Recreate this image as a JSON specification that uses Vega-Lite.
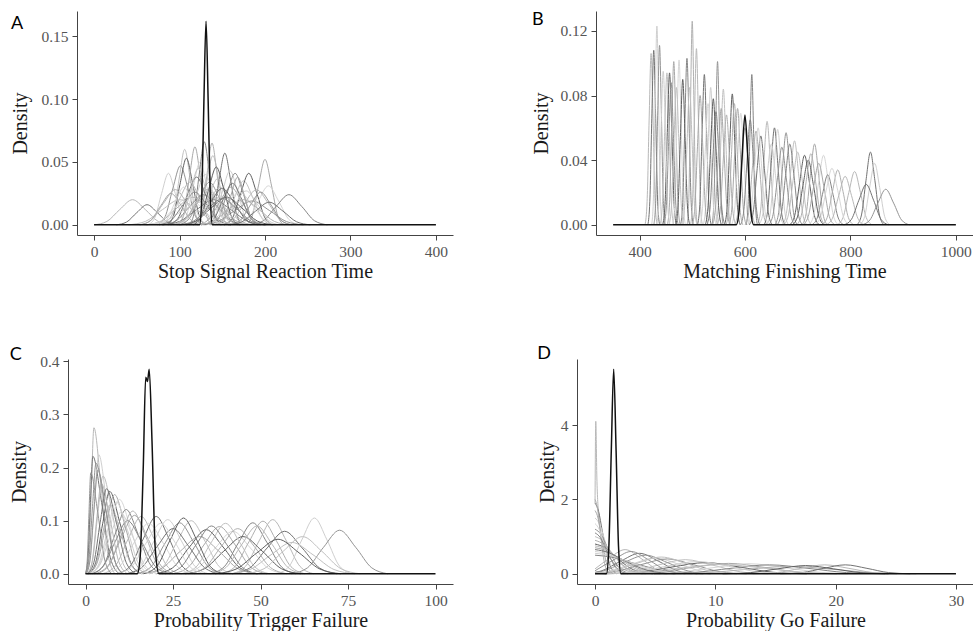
{
"$schema":"https://vega.github.io/schema/vega-lite/v6.json",
"padding":{"left":9,"top":11,"right":0,"bottom":0},
"background":"white",
"config":{"view":{"stroke":null},
"axis":{"grid":false,"labelFont":"Liberation Serif","titleFont":"Liberation Serif","labelFontSize":15.5,"titleFontSize":20,"titleFontWeight":"normal","labelColor":"#555555","titleColor":"#1a1a1a","domainColor":"#444444","tickColor":"#444444","tickSize":5,"labelPadding":4},
"axisX":{"titlePadding":2},
"axisY":{"titlePadding":6},
"title":{"anchor":"start","frame":"bounds","baseline":"alphabetic","font":"Lato","fontSize":18,"fontWeight":"normal","color":"#000000"}},
"datasets":{
"A":[
{"c":1,"x":0,"y":0},{"c":1,"x":15,"y":0.0027},{"c":1,"x":30,"y":0.0121},{"c":1,"x":45,"y":0.02},{"c":1,"x":60,"y":0.0121},{"c":1,"x":75,"y":0.0027},{"c":1,"x":90,"y":0},
{"c":2,"x":26,"y":0},{"c":2,"x":38,"y":0.0022},{"c":2,"x":50,"y":0.0097},{"c":2,"x":62,"y":0.016},{"c":2,"x":74,"y":0.0097},{"c":2,"x":86,"y":0.0022},{"c":2,"x":98,"y":0},
{"c":3,"x":63,"y":0},{"c":3,"x":71,"y":0.0055},{"c":3,"x":79,"y":0.0249},{"c":3,"x":87,"y":0.041},{"c":3,"x":95,"y":0.0249},{"c":3,"x":103,"y":0.0055},{"c":3,"x":111,"y":0},
{"c":4,"x":74,"y":0},{"c":4,"x":83,"y":0.0063},{"c":4,"x":92,"y":0.0285},{"c":4,"x":101,"y":0.047},{"c":4,"x":110,"y":0.0285},{"c":4,"x":119,"y":0.0063},{"c":4,"x":128,"y":0},
{"c":5,"x":86.5,"y":0},{"c":5,"x":93,"y":0.0081},{"c":5,"x":99.5,"y":0.0364},{"c":5,"x":106,"y":0.06},{"c":5,"x":112.5,"y":0.0364},{"c":5,"x":119,"y":0.0081},{"c":5,"x":125.5,"y":0},
{"c":6,"x":85.5,"y":0},{"c":6,"x":93,"y":0.0072},{"c":6,"x":100.5,"y":0.0322},{"c":6,"x":108,"y":0.053},{"c":6,"x":115.5,"y":0.0322},{"c":6,"x":123,"y":0.0072},{"c":6,"x":130.5,"y":0},
{"c":7,"x":98.5,"y":0},{"c":7,"x":105,"y":0.0084},{"c":7,"x":111.5,"y":0.0376},{"c":7,"x":118,"y":0.062},{"c":7,"x":124.5,"y":0.0376},{"c":7,"x":131,"y":0.0084},{"c":7,"x":137.5,"y":0},
{"c":8,"x":100,"y":0},{"c":8,"x":108,"y":0.0068},{"c":8,"x":116,"y":0.0304},{"c":8,"x":124,"y":0.05},{"c":8,"x":132,"y":0.0304},{"c":8,"x":140,"y":0.0068},{"c":8,"x":148,"y":0},
{"c":9,"x":111,"y":0},{"c":9,"x":117,"y":0.0089},{"c":9,"x":123,"y":0.0401},{"c":9,"x":129,"y":0.066},{"c":9,"x":135,"y":0.0401},{"c":9,"x":141,"y":0.0089},{"c":9,"x":147,"y":0},
{"c":10,"x":120,"y":0},{"c":10,"x":126,"y":0.0088},{"c":10,"x":132,"y":0.0395},{"c":10,"x":138,"y":0.065},{"c":10,"x":144,"y":0.0395},{"c":10,"x":150,"y":0.0088},{"c":10,"x":156,"y":0},
{"c":11,"x":116.5,"y":0},{"c":11,"x":124,"y":0.0074},{"c":11,"x":131.5,"y":0.0334},{"c":11,"x":139,"y":0.055},{"c":11,"x":146.5,"y":0.0334},{"c":11,"x":154,"y":0.0074},{"c":11,"x":161.5,"y":0},
{"c":12,"x":132,"y":0},{"c":12,"x":139,"y":0.0077},{"c":12,"x":146,"y":0.0346},{"c":12,"x":153,"y":0.057},{"c":12,"x":160,"y":0.0346},{"c":12,"x":167,"y":0.0077},{"c":12,"x":174,"y":0},
{"c":13,"x":132,"y":0},{"c":13,"x":141,"y":0.0058},{"c":13,"x":150,"y":0.0261},{"c":13,"x":159,"y":0.043},{"c":13,"x":168,"y":0.0261},{"c":13,"x":177,"y":0.0058},{"c":13,"x":186,"y":0},
{"c":14,"x":136.5,"y":0},{"c":14,"x":146,"y":0.0055},{"c":14,"x":155.5,"y":0.0249},{"c":14,"x":165,"y":0.041},{"c":14,"x":174.5,"y":0.0249},{"c":14,"x":184,"y":0.0055},{"c":14,"x":193.5,"y":0},
{"c":15,"x":142,"y":0},{"c":15,"x":153,"y":0.0047},{"c":15,"x":164,"y":0.0212},{"c":15,"x":175,"y":0.035},{"c":15,"x":186,"y":0.0212},{"c":15,"x":197,"y":0.0047},{"c":15,"x":208,"y":0},
{"c":16,"x":152.5,"y":0},{"c":16,"x":162,"y":0.0055},{"c":16,"x":171.5,"y":0.0249},{"c":16,"x":181,"y":0.041},{"c":16,"x":190.5,"y":0.0249},{"c":16,"x":200,"y":0.0055},{"c":16,"x":209.5,"y":0},
{"c":17,"x":177.5,"y":0},{"c":17,"x":185,"y":0.007},{"c":17,"x":192.5,"y":0.0316},{"c":17,"x":200,"y":0.052},{"c":17,"x":207.5,"y":0.0316},{"c":17,"x":215,"y":0.007},{"c":17,"x":222.5,"y":0},
{"c":18,"x":168,"y":0},{"c":18,"x":180,"y":0.0042},{"c":18,"x":192,"y":0.0188},{"c":18,"x":204,"y":0.031},{"c":18,"x":216,"y":0.0188},{"c":18,"x":228,"y":0.0042},{"c":18,"x":240,"y":0},
{"c":19,"x":183,"y":0},{"c":19,"x":198,"y":0.0032},{"c":19,"x":213,"y":0.0146},{"c":19,"x":228,"y":0.024},{"c":19,"x":243,"y":0.0146},{"c":19,"x":258,"y":0.0032},{"c":19,"x":273,"y":0},
{"c":20,"x":53,"y":0},{"c":20,"x":67,"y":0.0038},{"c":20,"x":81,"y":0.017},{"c":20,"x":95,"y":0.028},{"c":20,"x":109,"y":0.017},{"c":20,"x":123,"y":0.0038},{"c":20,"x":137,"y":0},
{"c":21,"x":76,"y":0},{"c":21,"x":88,"y":0.0046},{"c":21,"x":100,"y":0.0206},{"c":21,"x":112,"y":0.034},{"c":21,"x":124,"y":0.0206},{"c":21,"x":136,"y":0.0046},{"c":21,"x":148,"y":0},
{"c":22,"x":87,"y":0},{"c":22,"x":98,"y":0.0051},{"c":22,"x":109,"y":0.0231},{"c":22,"x":120,"y":0.038},{"c":22,"x":131,"y":0.0231},{"c":22,"x":142,"y":0.0051},{"c":22,"x":153,"y":0},
{"c":23,"x":100,"y":0},{"c":23,"x":110,"y":0.0054},{"c":23,"x":120,"y":0.0243},{"c":23,"x":130,"y":0.04},{"c":23,"x":140,"y":0.0243},{"c":23,"x":150,"y":0.0054},{"c":23,"x":160,"y":0},
{"c":24,"x":99,"y":0},{"c":24,"x":111,"y":0.0046},{"c":24,"x":123,"y":0.0206},{"c":24,"x":135,"y":0.034},{"c":24,"x":147,"y":0.0206},{"c":24,"x":159,"y":0.0046},{"c":24,"x":171,"y":0},
{"c":25,"x":112,"y":0},{"c":25,"x":123,"y":0.005},{"c":25,"x":134,"y":0.0225},{"c":25,"x":145,"y":0.037},{"c":25,"x":156,"y":0.0225},{"c":25,"x":167,"y":0.005},{"c":25,"x":178,"y":0},
{"c":26,"x":108,"y":0},{"c":26,"x":122,"y":0.0039},{"c":26,"x":136,"y":0.0176},{"c":26,"x":150,"y":0.029},{"c":26,"x":164,"y":0.0176},{"c":26,"x":178,"y":0.0039},{"c":26,"x":192,"y":0},
{"c":27,"x":121,"y":0},{"c":27,"x":134,"y":0.0041},{"c":27,"x":147,"y":0.0182},{"c":27,"x":160,"y":0.03},{"c":27,"x":173,"y":0.0182},{"c":27,"x":186,"y":0.0041},{"c":27,"x":199,"y":0},
{"c":28,"x":125,"y":0},{"c":28,"x":140,"y":0.0035},{"c":28,"x":155,"y":0.0158},{"c":28,"x":170,"y":0.026},{"c":28,"x":185,"y":0.0158},{"c":28,"x":200,"y":0.0035},{"c":28,"x":215,"y":0},
{"c":29,"x":80,"y":0},{"c":29,"x":96,"y":0.0032},{"c":29,"x":112,"y":0.0146},{"c":29,"x":128,"y":0.024},{"c":29,"x":144,"y":0.0146},{"c":29,"x":160,"y":0.0032},{"c":29,"x":176,"y":0},
{"c":30,"x":61,"y":0},{"c":30,"x":79,"y":0.003},{"c":30,"x":97,"y":0.0134},{"c":30,"x":115,"y":0.022},{"c":30,"x":133,"y":0.0134},{"c":30,"x":151,"y":0.003},{"c":30,"x":169,"y":0},
{"c":31,"x":148,"y":0},{"c":31,"x":162,"y":0.0038},{"c":31,"x":176,"y":0.017},{"c":31,"x":190,"y":0.028},{"c":31,"x":204,"y":0.017},{"c":31,"x":218,"y":0.0038},{"c":31,"x":232,"y":0},
{"c":32,"x":80,"y":0},{"c":32,"x":100,"y":0.0027},{"c":32,"x":120,"y":0.0121},{"c":32,"x":140,"y":0.02},{"c":32,"x":160,"y":0.0121},{"c":32,"x":180,"y":0.0027},{"c":32,"x":200,"y":0},
{"c":33,"x":59,"y":0},{"c":33,"x":81,"y":0.0024},{"c":33,"x":103,"y":0.0109},{"c":33,"x":125,"y":0.018},{"c":33,"x":147,"y":0.0109},{"c":33,"x":169,"y":0.0024},{"c":33,"x":191,"y":0},
{"c":34,"x":125,"y":0},{"c":34,"x":145,"y":0.0026},{"c":34,"x":165,"y":0.0115},{"c":34,"x":185,"y":0.019},{"c":34,"x":205,"y":0.0115},{"c":34,"x":225,"y":0.0026},{"c":34,"x":245,"y":0},
{"c":35,"x":40,"y":0},{"c":35,"x":60,"y":0.0027},{"c":35,"x":80,"y":0.0121},{"c":35,"x":100,"y":0.02},{"c":35,"x":120,"y":0.0121},{"c":35,"x":140,"y":0.0027},{"c":35,"x":160,"y":0},
{"c":36,"x":101,"y":0},{"c":36,"x":119,"y":0.003},{"c":36,"x":137,"y":0.0134},{"c":36,"x":155,"y":0.022},{"c":36,"x":173,"y":0.0134},{"c":36,"x":191,"y":0.003},{"c":36,"x":209,"y":0},
{"c":37,"x":54,"y":0},{"c":37,"x":66,"y":0.0034},{"c":37,"x":78,"y":0.0152},{"c":37,"x":90,"y":0.025},{"c":37,"x":102,"y":0.0152},{"c":37,"x":114,"y":0.0034},{"c":37,"x":126,"y":0},
{"c":38,"x":75,"y":0},{"c":38,"x":85,"y":0.0041},{"c":38,"x":95,"y":0.0182},{"c":38,"x":105,"y":0.03},{"c":38,"x":115,"y":0.0182},{"c":38,"x":125,"y":0.0041},{"c":38,"x":135,"y":0},
{"c":39,"x":76,"y":0},{"c":39,"x":90,"y":0.0035},{"c":39,"x":104,"y":0.0158},{"c":39,"x":118,"y":0.026},{"c":39,"x":132,"y":0.0158},{"c":39,"x":146,"y":0.0035},{"c":39,"x":160,"y":0},
{"c":40,"x":93,"y":0},{"c":40,"x":106,"y":0.0038},{"c":40,"x":119,"y":0.017},{"c":40,"x":132,"y":0.028},{"c":40,"x":145,"y":0.017},{"c":40,"x":158,"y":0.0038},{"c":40,"x":171,"y":0},
{"c":41,"x":111,"y":0},{"c":41,"x":123,"y":0.0041},{"c":41,"x":135,"y":0.0182},{"c":41,"x":147,"y":0.03},{"c":41,"x":159,"y":0.0182},{"c":41,"x":171,"y":0.0041},{"c":41,"x":183,"y":0},
{"c":42,"x":129,"y":0},{"c":42,"x":140,"y":0.0045},{"c":42,"x":151,"y":0.02},{"c":42,"x":162,"y":0.033},{"c":42,"x":173,"y":0.02},{"c":42,"x":184,"y":0.0045},{"c":42,"x":195,"y":0},
{"c":43,"x":139,"y":0},{"c":43,"x":152,"y":0.0036},{"c":43,"x":165,"y":0.0164},{"c":43,"x":178,"y":0.027},{"c":43,"x":191,"y":0.0164},{"c":43,"x":204,"y":0.0036},{"c":43,"x":217,"y":0},
{"c":44,"x":159,"y":0},{"c":44,"x":171,"y":0.0035},{"c":44,"x":183,"y":0.0158},{"c":44,"x":195,"y":0.026},{"c":44,"x":207,"y":0.0158},{"c":44,"x":219,"y":0.0035},{"c":44,"x":231,"y":0},
{"c":45,"x":95,"y":0},{"c":45,"x":104,"y":0.0061},{"c":45,"x":113,"y":0.0273},{"c":45,"x":122,"y":0.045},{"c":45,"x":131,"y":0.0273},{"c":45,"x":140,"y":0.0061},{"c":45,"x":149,"y":0},
{"c":46,"x":116,"y":0},{"c":46,"x":125,"y":0.0062},{"c":46,"x":134,"y":0.0279},{"c":46,"x":143,"y":0.046},{"c":46,"x":152,"y":0.0279},{"c":46,"x":161,"y":0.0062},{"c":46,"x":170,"y":0},
{"c":47,"x":144,"y":0},{"c":47,"x":152,"y":0.0051},{"c":47,"x":160,"y":0.0231},{"c":47,"x":168,"y":0.038},{"c":47,"x":176,"y":0.0231},{"c":47,"x":184,"y":0.0051},{"c":47,"x":192,"y":0},
{"c":48,"x":62,"y":0},{"c":48,"x":78,"y":0.003},{"c":48,"x":94,"y":0.0134},{"c":48,"x":110,"y":0.022},{"c":48,"x":126,"y":0.0134},{"c":48,"x":142,"y":0.003},{"c":48,"x":158,"y":0},
{"c":49,"x":99,"y":0},{"c":49,"x":116,"y":0.0028},{"c":49,"x":133,"y":0.0127},{"c":49,"x":150,"y":0.021},{"c":49,"x":167,"y":0.0127},{"c":49,"x":184,"y":0.0028},{"c":49,"x":201,"y":0},
{"c":50,"x":121,"y":0},{"c":50,"x":139,"y":0.0027},{"c":50,"x":157,"y":0.0121},{"c":50,"x":175,"y":0.02},{"c":50,"x":193,"y":0.0121},{"c":50,"x":211,"y":0.0027},{"c":50,"x":229,"y":0},
{"c":51,"x":90,"y":0},{"c":51,"x":105,"y":0.0036},{"c":51,"x":120,"y":0.0164},{"c":51,"x":135,"y":0.027},{"c":51,"x":150,"y":0.0164},{"c":51,"x":165,"y":0.0036},{"c":51,"x":180,"y":0},
{"c":52,"x":157,"y":0},{"c":52,"x":173,"y":0.0024},{"c":52,"x":189,"y":0.0109},{"c":52,"x":205,"y":0.018},{"c":52,"x":221,"y":0.0109},{"c":52,"x":237,"y":0.0024},{"c":52,"x":253,"y":0}
],
"A0":[{"x":0,"y":0},{"x":123.5,"y":0},{"x":126,"y":0.022},{"x":128.5,"y":0.098},{"x":131,"y":0.162},{"x":133.5,"y":0.098},{"x":136,"y":0.022},{"x":138.5,"y":0},{"x":400,"y":0}],
"B":[
{"c":1,"x":410.6,"y":0},{"c":1,"x":414.4,"y":0.0143},{"c":1,"x":418.2,"y":0.0643},{"c":1,"x":422,"y":0.106},{"c":1,"x":425.8,"y":0.0643},{"c":1,"x":429.6,"y":0.0143},{"c":1,"x":433.4,"y":0},
{"c":2,"x":415.9,"y":0},{"c":2,"x":419.6,"y":0.0146},{"c":2,"x":423.3,"y":0.0656},{"c":2,"x":427,"y":0.108},{"c":2,"x":430.7,"y":0.0656},{"c":2,"x":434.4,"y":0.0146},{"c":2,"x":438.1,"y":0},
{"c":3,"x":423.1,"y":0},{"c":3,"x":426.4,"y":0.0166},{"c":3,"x":429.7,"y":0.0747},{"c":3,"x":433,"y":0.123},{"c":3,"x":436.3,"y":0.0747},{"c":3,"x":439.6,"y":0.0166},{"c":3,"x":442.9,"y":0},
{"c":4,"x":427.2,"y":0},{"c":4,"x":430.8,"y":0.015},{"c":4,"x":434.4,"y":0.0674},{"c":4,"x":438,"y":0.111},{"c":4,"x":441.6,"y":0.0674},{"c":4,"x":445.2,"y":0.015},{"c":4,"x":448.8,"y":0},
{"c":5,"x":439.1,"y":0},{"c":5,"x":443.4,"y":0.0127},{"c":5,"x":447.7,"y":0.0571},{"c":5,"x":452,"y":0.094},{"c":5,"x":456.3,"y":0.0571},{"c":5,"x":460.6,"y":0.0127},{"c":5,"x":464.9,"y":0},
{"c":6,"x":444.1,"y":0},{"c":6,"x":448.4,"y":0.0127},{"c":6,"x":452.7,"y":0.0571},{"c":6,"x":457,"y":0.094},{"c":6,"x":461.3,"y":0.0571},{"c":6,"x":465.6,"y":0.0127},{"c":6,"x":469.9,"y":0},
{"c":7,"x":453,"y":0},{"c":7,"x":457,"y":0.0136},{"c":7,"x":461,"y":0.0613},{"c":7,"x":465,"y":0.101},{"c":7,"x":469,"y":0.0613},{"c":7,"x":473,"y":0.0136},{"c":7,"x":477,"y":0},
{"c":8,"x":463,"y":0},{"c":8,"x":467,"y":0.0138},{"c":8,"x":471,"y":0.0619},{"c":8,"x":475,"y":0.102},{"c":8,"x":479,"y":0.0619},{"c":8,"x":483,"y":0.0138},{"c":8,"x":487,"y":0},
{"c":9,"x":478,"y":0},{"c":9,"x":482,"y":0.0139},{"c":9,"x":486,"y":0.0625},{"c":9,"x":490,"y":0.103},{"c":9,"x":494,"y":0.0625},{"c":9,"x":498,"y":0.0139},{"c":9,"x":502,"y":0},
{"c":10,"x":490.4,"y":0},{"c":10,"x":493.6,"y":0.017},{"c":10,"x":496.8,"y":0.0765},{"c":10,"x":500,"y":0.126},{"c":10,"x":503.2,"y":0.0765},{"c":10,"x":506.4,"y":0.017},{"c":10,"x":509.6,"y":0},
{"c":11,"x":496.9,"y":0},{"c":11,"x":500.6,"y":0.0147},{"c":11,"x":504.3,"y":0.0662},{"c":11,"x":508,"y":0.109},{"c":11,"x":511.7,"y":0.0662},{"c":11,"x":515.4,"y":0.0147},{"c":11,"x":519.1,"y":0},
{"c":12,"x":510.1,"y":0},{"c":12,"x":514.4,"y":0.0126},{"c":12,"x":518.7,"y":0.0565},{"c":12,"x":523,"y":0.093},{"c":12,"x":527.3,"y":0.0565},{"c":12,"x":531.6,"y":0.0126},{"c":12,"x":535.9,"y":0},
{"c":13,"x":520.9,"y":0},{"c":13,"x":525.6,"y":0.0115},{"c":13,"x":530.3,"y":0.0516},{"c":13,"x":535,"y":0.085},{"c":13,"x":539.7,"y":0.0516},{"c":13,"x":544.4,"y":0.0115},{"c":13,"x":549.1,"y":0},
{"c":14,"x":537.5,"y":0},{"c":14,"x":541,"y":0.0136},{"c":14,"x":544.5,"y":0.0613},{"c":14,"x":548,"y":0.101},{"c":14,"x":551.5,"y":0.0613},{"c":14,"x":555,"y":0.0136},{"c":14,"x":558.5,"y":0},
{"c":15,"x":544.6,"y":0},{"c":15,"x":549.4,"y":0.0113},{"c":15,"x":554.2,"y":0.051},{"c":15,"x":559,"y":0.084},{"c":15,"x":563.8,"y":0.051},{"c":15,"x":568.6,"y":0.0113},{"c":15,"x":573.4,"y":0},
{"c":16,"x":561.3,"y":0},{"c":16,"x":566.2,"y":0.0109},{"c":16,"x":571.1,"y":0.0492},{"c":16,"x":576,"y":0.081},{"c":16,"x":580.9,"y":0.0492},{"c":16,"x":585.8,"y":0.0109},{"c":16,"x":590.7,"y":0},
{"c":17,"x":569.5,"y":0},{"c":17,"x":575,"y":0.0097},{"c":17,"x":580.5,"y":0.0437},{"c":17,"x":586,"y":0.072},{"c":17,"x":591.5,"y":0.0437},{"c":17,"x":597,"y":0.0097},{"c":17,"x":602.5,"y":0},
{"c":18,"x":574.6,"y":0},{"c":18,"x":580.4,"y":0.0093},{"c":18,"x":586.2,"y":0.0419},{"c":18,"x":592,"y":0.069},{"c":18,"x":597.8,"y":0.0419},{"c":18,"x":603.6,"y":0.0093},{"c":18,"x":609.4,"y":0},
{"c":19,"x":602.5,"y":0},{"c":19,"x":606,"y":0.0126},{"c":19,"x":609.5,"y":0.0565},{"c":19,"x":613,"y":0.093},{"c":19,"x":616.5,"y":0.0565},{"c":19,"x":620,"y":0.0126},{"c":19,"x":623.5,"y":0},
{"c":20,"x":600.3,"y":0},{"c":20,"x":607.2,"y":0.0078},{"c":20,"x":614.1,"y":0.0352},{"c":20,"x":621,"y":0.058},{"c":20,"x":627.9,"y":0.0352},{"c":20,"x":634.8,"y":0.0078},{"c":20,"x":641.7,"y":0},
{"c":21,"x":623.4,"y":0},{"c":21,"x":629.6,"y":0.0086},{"c":21,"x":635.8,"y":0.0388},{"c":21,"x":642,"y":0.064},{"c":21,"x":648.2,"y":0.0388},{"c":21,"x":654.4,"y":0.0086},{"c":21,"x":660.6,"y":0},
{"c":22,"x":636.2,"y":0},{"c":22,"x":642.8,"y":0.0081},{"c":22,"x":649.4,"y":0.0364},{"c":22,"x":656,"y":0.06},{"c":22,"x":662.6,"y":0.0364},{"c":22,"x":669.2,"y":0.0081},{"c":22,"x":675.8,"y":0},
{"c":23,"x":641.6,"y":0},{"c":23,"x":648.4,"y":0.008},{"c":23,"x":655.2,"y":0.0358},{"c":23,"x":662,"y":0.059},{"c":23,"x":668.8,"y":0.0358},{"c":23,"x":675.6,"y":0.008},{"c":23,"x":682.4,"y":0},
{"c":24,"x":657,"y":0},{"c":24,"x":664,"y":0.0077},{"c":24,"x":671,"y":0.0346},{"c":24,"x":678,"y":0.057},{"c":24,"x":685,"y":0.0346},{"c":24,"x":692,"y":0.0077},{"c":24,"x":699,"y":0},
{"c":25,"x":670.9,"y":0},{"c":25,"x":678.6,"y":0.007},{"c":25,"x":686.3,"y":0.0316},{"c":25,"x":694,"y":0.052},{"c":25,"x":701.7,"y":0.0316},{"c":25,"x":709.4,"y":0.007},{"c":25,"x":717.1,"y":0},
{"c":26,"x":685.1,"y":0},{"c":26,"x":694.4,"y":0.0058},{"c":26,"x":703.7,"y":0.0261},{"c":26,"x":713,"y":0.043},{"c":26,"x":722.3,"y":0.0261},{"c":26,"x":731.6,"y":0.0058},{"c":26,"x":740.9,"y":0},
{"c":27,"x":708,"y":0},{"c":27,"x":716,"y":0.0068},{"c":27,"x":724,"y":0.0304},{"c":27,"x":732,"y":0.05},{"c":27,"x":740,"y":0.0304},{"c":27,"x":748,"y":0.0068},{"c":27,"x":756,"y":0},
{"c":28,"x":721.1,"y":0},{"c":28,"x":730.4,"y":0.0058},{"c":28,"x":739.7,"y":0.0261},{"c":28,"x":749,"y":0.043},{"c":28,"x":758.3,"y":0.0261},{"c":28,"x":767.6,"y":0.0058},{"c":28,"x":776.9,"y":0},
{"c":29,"x":727,"y":0},{"c":29,"x":737,"y":0.0042},{"c":29,"x":747,"y":0.0188},{"c":29,"x":757,"y":0.031},{"c":29,"x":767,"y":0.0188},{"c":29,"x":777,"y":0.0042},{"c":29,"x":787,"y":0},
{"c":30,"x":746,"y":0},{"c":30,"x":756,"y":0.0046},{"c":30,"x":766,"y":0.0206},{"c":30,"x":776,"y":0.034},{"c":30,"x":786,"y":0.0206},{"c":30,"x":796,"y":0.0046},{"c":30,"x":806,"y":0},
{"c":31,"x":775,"y":0},{"c":31,"x":786,"y":0.0045},{"c":31,"x":797,"y":0.02},{"c":31,"x":808,"y":0.033},{"c":31,"x":819,"y":0.02},{"c":31,"x":830,"y":0.0045},{"c":31,"x":841,"y":0},
{"c":32,"x":812.5,"y":0},{"c":32,"x":821,"y":0.0061},{"c":32,"x":829.5,"y":0.0273},{"c":32,"x":838,"y":0.045},{"c":32,"x":846.5,"y":0.0273},{"c":32,"x":855,"y":0.0061},{"c":32,"x":863.5,"y":0},
{"c":33,"x":817.5,"y":0},{"c":33,"x":827,"y":0.0051},{"c":33,"x":836.5,"y":0.0231},{"c":33,"x":846,"y":0.038},{"c":33,"x":855.5,"y":0.0231},{"c":33,"x":865,"y":0.0051},{"c":33,"x":874.5,"y":0},
{"c":34,"x":822,"y":0},{"c":34,"x":837,"y":0.003},{"c":34,"x":852,"y":0.0134},{"c":34,"x":867,"y":0.022},{"c":34,"x":882,"y":0.0134},{"c":34,"x":897,"y":0.003},{"c":34,"x":912,"y":0},
{"c":35,"x":455.9,"y":0},{"c":35,"x":460.6,"y":0.0115},{"c":35,"x":465.3,"y":0.0516},{"c":35,"x":470,"y":0.085},{"c":35,"x":474.7,"y":0.0516},{"c":35,"x":479.4,"y":0.0115},{"c":35,"x":484.1,"y":0},
{"c":36,"x":468.8,"y":0},{"c":36,"x":473.2,"y":0.0122},{"c":36,"x":477.6,"y":0.0546},{"c":36,"x":482,"y":0.09},{"c":36,"x":486.4,"y":0.0546},{"c":36,"x":490.8,"y":0.0122},{"c":36,"x":495.2,"y":0},
{"c":37,"x":500,"y":0},{"c":37,"x":505,"y":0.0108},{"c":37,"x":510,"y":0.0486},{"c":37,"x":515,"y":0.08},{"c":37,"x":520,"y":0.0486},{"c":37,"x":525,"y":0.0108},{"c":37,"x":530,"y":0},
{"c":38,"x":514.1,"y":0},{"c":38,"x":519.4,"y":0.0101},{"c":38,"x":524.7,"y":0.0455},{"c":38,"x":530,"y":0.075},{"c":38,"x":535.3,"y":0.0455},{"c":38,"x":540.6,"y":0.0101},{"c":38,"x":545.9,"y":0},
{"c":39,"x":527.9,"y":0},{"c":39,"x":533.6,"y":0.0095},{"c":39,"x":539.3,"y":0.0425},{"c":39,"x":545,"y":0.07},{"c":39,"x":550.7,"y":0.0425},{"c":39,"x":556.4,"y":0.0095},{"c":39,"x":562.1,"y":0},
{"c":40,"x":547.3,"y":0},{"c":40,"x":553.2,"y":0.0092},{"c":40,"x":559.1,"y":0.0413},{"c":40,"x":565,"y":0.068},{"c":40,"x":570.9,"y":0.0413},{"c":40,"x":576.8,"y":0.0092},{"c":40,"x":582.7,"y":0},
{"c":41,"x":580.2,"y":0},{"c":41,"x":586.8,"y":0.0081},{"c":41,"x":593.4,"y":0.0364},{"c":41,"x":600,"y":0.06},{"c":41,"x":606.6,"y":0.0364},{"c":41,"x":613.2,"y":0.0081},{"c":41,"x":619.8,"y":0},
{"c":42,"x":608.4,"y":0},{"c":42,"x":615.6,"y":0.0074},{"c":42,"x":622.8,"y":0.0334},{"c":42,"x":630,"y":0.055},{"c":42,"x":637.2,"y":0.0334},{"c":42,"x":644.4,"y":0.0074},{"c":42,"x":651.6,"y":0},
{"c":43,"x":626,"y":0},{"c":43,"x":634,"y":0.0068},{"c":43,"x":642,"y":0.0304},{"c":43,"x":650,"y":0.05},{"c":43,"x":658,"y":0.0304},{"c":43,"x":666,"y":0.0068},{"c":43,"x":674,"y":0},
{"c":44,"x":645.1,"y":0},{"c":44,"x":653.4,"y":0.0065},{"c":44,"x":661.7,"y":0.0291},{"c":44,"x":670,"y":0.048},{"c":44,"x":678.3,"y":0.0291},{"c":44,"x":686.6,"y":0.0065},{"c":44,"x":694.9,"y":0},
{"c":45,"x":673.6,"y":0},{"c":45,"x":682.4,"y":0.0061},{"c":45,"x":691.2,"y":0.0273},{"c":45,"x":700,"y":0.045},{"c":45,"x":708.8,"y":0.0273},{"c":45,"x":717.6,"y":0.0061},{"c":45,"x":726.4,"y":0},
{"c":46,"x":690,"y":0},{"c":46,"x":700,"y":0.0054},{"c":46,"x":710,"y":0.0243},{"c":46,"x":720,"y":0.04},{"c":46,"x":730,"y":0.0243},{"c":46,"x":740,"y":0.0054},{"c":46,"x":750,"y":0},
{"c":47,"x":710,"y":0},{"c":47,"x":720,"y":0.0051},{"c":47,"x":730,"y":0.0231},{"c":47,"x":740,"y":0.038},{"c":47,"x":750,"y":0.0231},{"c":47,"x":760,"y":0.0051},{"c":47,"x":770,"y":0},
{"c":48,"x":732,"y":0},{"c":48,"x":743,"y":0.0047},{"c":48,"x":754,"y":0.0212},{"c":48,"x":765,"y":0.035},{"c":48,"x":776,"y":0.0212},{"c":48,"x":787,"y":0.0047},{"c":48,"x":798,"y":0},
{"c":49,"x":591.7,"y":0},{"c":49,"x":597.8,"y":0.0088},{"c":49,"x":603.9,"y":0.0395},{"c":49,"x":610,"y":0.065},{"c":49,"x":616.1,"y":0.0395},{"c":49,"x":622.2,"y":0.0088},{"c":49,"x":628.3,"y":0},
{"c":50,"x":564.1,"y":0},{"c":50,"x":569.4,"y":0.0101},{"c":50,"x":574.7,"y":0.0455},{"c":50,"x":580,"y":0.075},{"c":50,"x":585.3,"y":0.0455},{"c":50,"x":590.6,"y":0.0101},{"c":50,"x":595.9,"y":0},
{"c":51,"x":754,"y":0},{"c":51,"x":766,"y":0.0041},{"c":51,"x":778,"y":0.0182},{"c":51,"x":790,"y":0.03},{"c":51,"x":802,"y":0.0182},{"c":51,"x":814,"y":0.0041},{"c":51,"x":826,"y":0},
{"c":52,"x":788,"y":0},{"c":52,"x":802,"y":0.0034},{"c":52,"x":816,"y":0.0152},{"c":52,"x":830,"y":0.025},{"c":52,"x":844,"y":0.0152},{"c":52,"x":858,"y":0.0034},{"c":52,"x":872,"y":0},
{"c":53,"x":432.4,"y":0},{"c":53,"x":436.6,"y":0.0128},{"c":53,"x":440.8,"y":0.0577},{"c":53,"x":445,"y":0.095},{"c":53,"x":449.2,"y":0.0577},{"c":53,"x":453.4,"y":0.0128},{"c":53,"x":457.6,"y":0},
{"c":54,"x":446.5,"y":0},{"c":54,"x":451,"y":0.0119},{"c":54,"x":455.5,"y":0.0534},{"c":54,"x":460,"y":0.088},{"c":54,"x":464.5,"y":0.0534},{"c":54,"x":469,"y":0.0119},{"c":54,"x":473.5,"y":0},
{"c":55,"x":480.9,"y":0},{"c":55,"x":485.6,"y":0.0115},{"c":55,"x":490.3,"y":0.0516},{"c":55,"x":495,"y":0.085},{"c":55,"x":499.7,"y":0.0516},{"c":55,"x":504.4,"y":0.0115},{"c":55,"x":509.1,"y":0},
{"c":56,"x":524.7,"y":0},{"c":56,"x":529.8,"y":0.0105},{"c":56,"x":534.9,"y":0.0473},{"c":56,"x":540,"y":0.078},{"c":56,"x":545.1,"y":0.0473},{"c":56,"x":550.2,"y":0.0105},{"c":56,"x":555.3,"y":0},
{"c":57,"x":538.5,"y":0},{"c":57,"x":544,"y":0.0097},{"c":57,"x":549.5,"y":0.0437},{"c":57,"x":555,"y":0.072},{"c":57,"x":560.5,"y":0.0437},{"c":57,"x":566,"y":0.0097},{"c":57,"x":571.5,"y":0},
{"c":58,"x":605.2,"y":0},{"c":58,"x":611.8,"y":0.0081},{"c":58,"x":618.4,"y":0.0364},{"c":58,"x":625,"y":0.06},{"c":58,"x":631.6,"y":0.0364},{"c":58,"x":638.2,"y":0.0081},{"c":58,"x":644.8,"y":0},
{"c":59,"x":661,"y":0},{"c":59,"x":669,"y":0.0068},{"c":59,"x":677,"y":0.0304},{"c":59,"x":685,"y":0.05},{"c":59,"x":693,"y":0.0304},{"c":59,"x":701,"y":0.0068},{"c":59,"x":709,"y":0},
{"c":60,"x":698,"y":0},{"c":60,"x":707,"y":0.0059},{"c":60,"x":716,"y":0.0267},{"c":60,"x":725,"y":0.044},{"c":60,"x":734,"y":0.0267},{"c":60,"x":743,"y":0.0059},{"c":60,"x":752,"y":0}
],
"B0":[{"x":350,"y":0},{"x":583.5,"y":0},{"x":589,"y":0.0092},{"x":594.5,"y":0.0413},{"x":600,"y":0.068},{"x":605.5,"y":0.0413},{"x":611,"y":0.0092},{"x":616.5,"y":0},{"x":1000,"y":0}],
"C":[
{"c":1,"x":0.3,"y":0},{"c":1,"x":1,"y":0.0371},{"c":1,"x":1.7,"y":0.1669},{"c":1,"x":2.4,"y":0.275},{"c":1,"x":4.4,"y":0.1669},{"c":1,"x":6.4,"y":0.0371},{"c":1,"x":8.4,"y":0},
{"c":2,"x":0,"y":0},{"c":2,"x":0.7,"y":0.0298},{"c":2,"x":1.4,"y":0.1341},{"c":2,"x":2.1,"y":0.221},{"c":2,"x":4.6,"y":0.1341},{"c":2,"x":7.1,"y":0.0298},{"c":2,"x":9.6,"y":0},
{"c":3,"x":0.2,"y":0},{"c":3,"x":1.4,"y":0.0302},{"c":3,"x":2.6,"y":0.136},{"c":3,"x":3.8,"y":0.224},{"c":3,"x":6,"y":0.136},{"c":3,"x":8.2,"y":0.0302},{"c":3,"x":10.4,"y":0},
{"c":4,"x":0,"y":0},{"c":4,"x":1,"y":0.0281},{"c":4,"x":2,"y":0.1263},{"c":4,"x":3,"y":0.208},{"c":4,"x":5.6,"y":0.1263},{"c":4,"x":8.2,"y":0.0281},{"c":4,"x":10.8,"y":0},
{"c":5,"x":0.5,"y":0},{"c":5,"x":2,"y":0.0248},{"c":5,"x":3.5,"y":0.1117},{"c":5,"x":5,"y":0.184},{"c":5,"x":7.7,"y":0.1117},{"c":5,"x":10.4,"y":0.0248},{"c":5,"x":13.1,"y":0},
{"c":6,"x":0.9,"y":0},{"c":6,"x":2.9,"y":0.0209},{"c":6,"x":4.9,"y":0.0941},{"c":6,"x":6.9,"y":0.155},{"c":6,"x":9.9,"y":0.0941},{"c":6,"x":12.9,"y":0.0209},{"c":6,"x":15.9,"y":0},
{"c":7,"x":0.8,"y":0},{"c":7,"x":3.3,"y":0.0201},{"c":7,"x":5.8,"y":0.0904},{"c":7,"x":8.3,"y":0.149},{"c":7,"x":11.3,"y":0.0904},{"c":7,"x":14.3,"y":0.0201},{"c":7,"x":17.3,"y":0},
{"c":8,"x":1.3,"y":0},{"c":8,"x":4.1,"y":0.0189},{"c":8,"x":6.9,"y":0.085},{"c":8,"x":9.7,"y":0.14},{"c":8,"x":12.9,"y":0.085},{"c":8,"x":16.1,"y":0.0189},{"c":8,"x":19.3,"y":0},
{"c":9,"x":2,"y":0},{"c":9,"x":5.2,"y":0.0163},{"c":9,"x":8.4,"y":0.0734},{"c":9,"x":11.6,"y":0.121},{"c":9,"x":15.1,"y":0.0734},{"c":9,"x":18.6,"y":0.0163},{"c":9,"x":22.1,"y":0},
{"c":10,"x":3.3,"y":0},{"c":10,"x":6.7,"y":0.0159},{"c":10,"x":10.1,"y":0.0716},{"c":10,"x":13.5,"y":0.118},{"c":10,"x":17.1,"y":0.0716},{"c":10,"x":20.7,"y":0.0159},{"c":10,"x":24.3,"y":0},
{"c":11,"x":4.8,"y":0},{"c":11,"x":8.5,"y":0.0146},{"c":11,"x":12.2,"y":0.0656},{"c":11,"x":15.9,"y":0.108},{"c":11,"x":19.6,"y":0.0656},{"c":11,"x":23.3,"y":0.0146},{"c":11,"x":27,"y":0},
{"c":12,"x":9.1,"y":0},{"c":12,"x":12.8,"y":0.0146},{"c":12,"x":16.5,"y":0.0656},{"c":12,"x":20.2,"y":0.108},{"c":12,"x":23.9,"y":0.0656},{"c":12,"x":27.6,"y":0.0146},{"c":12,"x":31.3,"y":0},
{"c":13,"x":11.8,"y":0},{"c":13,"x":15.7,"y":0.0138},{"c":13,"x":19.6,"y":0.0619},{"c":13,"x":23.5,"y":0.102},{"c":13,"x":27.4,"y":0.0619},{"c":13,"x":31.3,"y":0.0138},{"c":13,"x":35.2,"y":0},
{"c":14,"x":14.6,"y":0},{"c":14,"x":18.7,"y":0.013},{"c":14,"x":22.8,"y":0.0583},{"c":14,"x":26.9,"y":0.096},{"c":14,"x":31,"y":0.0583},{"c":14,"x":35.1,"y":0.013},{"c":14,"x":39.2,"y":0},
{"c":15,"x":18.2,"y":0},{"c":15,"x":22.2,"y":0.0135},{"c":15,"x":26.2,"y":0.0607},{"c":15,"x":30.2,"y":0.1},{"c":15,"x":34.2,"y":0.0607},{"c":15,"x":38.2,"y":0.0135},{"c":15,"x":42.2,"y":0},
{"c":16,"x":20.1,"y":0},{"c":16,"x":24.9,"y":0.0112},{"c":16,"x":29.7,"y":0.0504},{"c":16,"x":34.5,"y":0.083},{"c":16,"x":39.3,"y":0.0504},{"c":16,"x":44.1,"y":0.0112},{"c":16,"x":48.9,"y":0},
{"c":17,"x":24.8,"y":0},{"c":17,"x":29.3,"y":0.012},{"c":17,"x":33.8,"y":0.054},{"c":17,"x":38.3,"y":0.089},{"c":17,"x":42.8,"y":0.054},{"c":17,"x":47.3,"y":0.012},{"c":17,"x":51.8,"y":0},
{"c":18,"x":27.1,"y":0},{"c":18,"x":32.1,"y":0.0108},{"c":18,"x":37.1,"y":0.0486},{"c":18,"x":42.1,"y":0.08},{"c":18,"x":47.1,"y":0.0486},{"c":18,"x":52.1,"y":0.0108},{"c":18,"x":57.1,"y":0},
{"c":19,"x":35.5,"y":0},{"c":19,"x":39.6,"y":0.013},{"c":19,"x":43.7,"y":0.0583},{"c":19,"x":47.8,"y":0.096},{"c":19,"x":51.9,"y":0.0583},{"c":19,"x":56,"y":0.013},{"c":19,"x":60.1,"y":0},
{"c":20,"x":38.7,"y":0},{"c":20,"x":42.7,"y":0.0134},{"c":20,"x":46.7,"y":0.0601},{"c":20,"x":50.7,"y":0.099},{"c":20,"x":54.7,"y":0.0601},{"c":20,"x":58.7,"y":0.0134},{"c":20,"x":62.7,"y":0},
{"c":21,"x":41.8,"y":0},{"c":21,"x":45.7,"y":0.0138},{"c":21,"x":49.6,"y":0.0619},{"c":21,"x":53.5,"y":0.102},{"c":21,"x":57.4,"y":0.0619},{"c":21,"x":61.3,"y":0.0138},{"c":21,"x":65.2,"y":0},
{"c":22,"x":41.9,"y":0},{"c":22,"x":46.9,"y":0.0108},{"c":22,"x":51.9,"y":0.0486},{"c":22,"x":56.9,"y":0.08},{"c":22,"x":61.9,"y":0.0486},{"c":22,"x":66.9,"y":0.0108},{"c":22,"x":71.9,"y":0},
{"c":23,"x":54.6,"y":0},{"c":23,"x":58.2,"y":0.0142},{"c":23,"x":61.8,"y":0.0637},{"c":23,"x":65.4,"y":0.105},{"c":23,"x":69,"y":0.0637},{"c":23,"x":72.6,"y":0.0142},{"c":23,"x":76.2,"y":0},
{"c":24,"x":58.8,"y":0},{"c":24,"x":63.4,"y":0.0111},{"c":24,"x":68,"y":0.0498},{"c":24,"x":72.6,"y":0.082},{"c":24,"x":77.2,"y":0.0498},{"c":24,"x":81.8,"y":0.0111},{"c":24,"x":86.4,"y":0},
{"c":25,"x":41,"y":0},{"c":25,"x":47,"y":0.008},{"c":25,"x":53,"y":0.0358},{"c":25,"x":59,"y":0.059},{"c":25,"x":65,"y":0.0358},{"c":25,"x":71,"y":0.008},{"c":25,"x":77,"y":0},
{"c":26,"x":28.5,"y":0},{"c":26,"x":34,"y":0.0095},{"c":26,"x":39.5,"y":0.0425},{"c":26,"x":45,"y":0.07},{"c":26,"x":50.5,"y":0.0425},{"c":26,"x":56,"y":0.0095},{"c":26,"x":61.5,"y":0},
{"c":27,"x":16.1,"y":0},{"c":27,"x":21.6,"y":0.0095},{"c":27,"x":27.1,"y":0.0425},{"c":27,"x":32.6,"y":0.07},{"c":27,"x":38.1,"y":0.0425},{"c":27,"x":43.6,"y":0.0095},{"c":27,"x":49.1,"y":0},
{"c":28,"x":5.4,"y":0},{"c":28,"x":9.6,"y":0.0128},{"c":28,"x":13.8,"y":0.0577},{"c":28,"x":18,"y":0.095},{"c":28,"x":22.2,"y":0.0577},{"c":28,"x":26.4,"y":0.0128},{"c":28,"x":30.6,"y":0},
{"c":29,"x":1.5,"y":0},{"c":29,"x":5,"y":0.0135},{"c":29,"x":8.5,"y":0.0607},{"c":29,"x":12,"y":0.1},{"c":29,"x":16,"y":0.0607},{"c":29,"x":20,"y":0.0135},{"c":29,"x":24,"y":0},
{"c":30,"x":1,"y":0},{"c":30,"x":3,"y":0.0176},{"c":30,"x":5,"y":0.0789},{"c":30,"x":7,"y":0.13},{"c":30,"x":10,"y":0.0789},{"c":30,"x":13,"y":0.0176},{"c":30,"x":16,"y":0},
{"c":31,"x":0.6,"y":0},{"c":31,"x":1.9,"y":0.023},{"c":31,"x":3.2,"y":0.1032},{"c":31,"x":4.5,"y":0.17},{"c":31,"x":7,"y":0.1032},{"c":31,"x":9.5,"y":0.023},{"c":31,"x":12,"y":0},
{"c":32,"x":11.5,"y":0},{"c":32,"x":16,"y":0.0115},{"c":32,"x":20.5,"y":0.0516},{"c":32,"x":25,"y":0.085},{"c":32,"x":29.5,"y":0.0516},{"c":32,"x":34,"y":0.0115},{"c":32,"x":38.5,"y":0},
{"c":33,"x":1,"y":0},{"c":33,"x":4,"y":0.0155},{"c":33,"x":7,"y":0.0698},{"c":33,"x":10,"y":0.115},{"c":33,"x":13.5,"y":0.0698},{"c":33,"x":17,"y":0.0155},{"c":33,"x":20.5,"y":0},
{"c":34,"x":0,"y":0},{"c":34,"x":0.5,"y":0.0257},{"c":34,"x":1,"y":0.1153},{"c":34,"x":1.5,"y":0.19},{"c":34,"x":3.5,"y":0.1153},{"c":34,"x":5.5,"y":0.0257},{"c":34,"x":7.5,"y":0},
{"c":35,"x":27.4,"y":0},{"c":35,"x":31.6,"y":0.0128},{"c":35,"x":35.8,"y":0.0577},{"c":35,"x":40,"y":0.095},{"c":35,"x":44.2,"y":0.0577},{"c":35,"x":48.4,"y":0.0128},{"c":35,"x":52.6,"y":0},
{"c":36,"x":16.6,"y":0},{"c":36,"x":20.4,"y":0.0142},{"c":36,"x":24.2,"y":0.0637},{"c":36,"x":28,"y":0.105},{"c":36,"x":31.8,"y":0.0637},{"c":36,"x":35.6,"y":0.0142},{"c":36,"x":39.4,"y":0},
{"c":37,"x":2.6,"y":0},{"c":37,"x":6.4,"y":0.0149},{"c":37,"x":10.2,"y":0.0668},{"c":37,"x":14,"y":0.11},{"c":37,"x":17.8,"y":0.0668},{"c":37,"x":21.6,"y":0.0149},{"c":37,"x":25.4,"y":0},
{"c":38,"x":8.9,"y":0},{"c":38,"x":13.1,"y":0.0128},{"c":38,"x":17.3,"y":0.0577},{"c":38,"x":21.5,"y":0.095},{"c":38,"x":25.7,"y":0.0577},{"c":38,"x":29.9,"y":0.0128},{"c":38,"x":34.1,"y":0},
{"c":39,"x":22.8,"y":0},{"c":39,"x":27.2,"y":0.0122},{"c":39,"x":31.6,"y":0.0546},{"c":39,"x":36,"y":0.09},{"c":39,"x":40.4,"y":0.0546},{"c":39,"x":44.8,"y":0.0122},{"c":39,"x":49.2,"y":0},
{"c":40,"x":29.4,"y":0},{"c":40,"x":34.1,"y":0.0115},{"c":40,"x":38.8,"y":0.0516},{"c":40,"x":43.5,"y":0.085},{"c":40,"x":48.2,"y":0.0516},{"c":40,"x":52.9,"y":0.0115},{"c":40,"x":57.6,"y":0},
{"c":41,"x":35.8,"y":0},{"c":41,"x":40.2,"y":0.0122},{"c":41,"x":44.6,"y":0.0546},{"c":41,"x":49,"y":0.09},{"c":41,"x":53.4,"y":0.0546},{"c":41,"x":57.8,"y":0.0122},{"c":41,"x":62.2,"y":0},
{"c":42,"x":0.6,"y":0},{"c":42,"x":2.4,"y":0.0216},{"c":42,"x":4.2,"y":0.0971},{"c":42,"x":6,"y":0.16},{"c":42,"x":8.8,"y":0.0971},{"c":42,"x":11.6,"y":0.0216},{"c":42,"x":14.4,"y":0},
{"c":43,"x":1.3,"y":0},{"c":43,"x":3.8,"y":0.0182},{"c":43,"x":6.3,"y":0.0819},{"c":43,"x":8.8,"y":0.135},{"c":43,"x":12,"y":0.0819},{"c":43,"x":15.2,"y":0.0182},{"c":43,"x":18.4,"y":0},
{"c":44,"x":0.2,"y":0},{"c":44,"x":1.3,"y":0.0263},{"c":44,"x":2.4,"y":0.1184},{"c":44,"x":3.5,"y":0.195},{"c":44,"x":5.9,"y":0.1184},{"c":44,"x":8.3,"y":0.0263},{"c":44,"x":10.7,"y":0},
{"c":45,"x":45.5,"y":0},{"c":45,"x":51,"y":0.0095},{"c":45,"x":56.5,"y":0.0425},{"c":45,"x":62,"y":0.07},{"c":45,"x":67.5,"y":0.0425},{"c":45,"x":73,"y":0.0095},{"c":45,"x":78.5,"y":0},
{"c":46,"x":37,"y":0},{"c":46,"x":43,"y":0.0088},{"c":46,"x":49,"y":0.0395},{"c":46,"x":55,"y":0.065},{"c":46,"x":61,"y":0.0395},{"c":46,"x":67,"y":0.0088},{"c":46,"x":73,"y":0}
],
"C0":[{"x":0,"y":0},{"x":14.8,"y":0},{"x":15.6,"y":0.03},{"x":16.5,"y":0.2},{"x":17.2,"y":0.37},{"x":17.7,"y":0.362},{"x":18.2,"y":0.385},{"x":19,"y":0.25},{"x":19.9,"y":0.05},{"x":21,"y":0},{"x":100,"y":0}],
"D":[
{"c":1,"x":0,"y":1.9},{"c":1,"x":0.06,"y":4.1},{"c":1,"x":0.15,"y":2.6},{"c":1,"x":0.3,"y":1.6},{"c":1,"x":0.6,"y":0.95},{"c":1,"x":1.2,"y":0.45},{"c":1,"x":2.5,"y":0.1},{"c":1,"x":4,"y":0},
{"c":2,"x":0,"y":1.9},{"c":2,"x":0.3,"y":1.672},{"c":2,"x":0.6,"y":1.153},{"c":2,"x":1.2,"y":0.257},{"c":2,"x":1.8,"y":0},
{"c":3,"x":0,"y":1.5},{"c":3,"x":0.4,"y":1.32},{"c":3,"x":0.8,"y":0.911},{"c":3,"x":1.6,"y":0.203},{"c":3,"x":2.4,"y":0},
{"c":4,"x":0,"y":1.2},{"c":4,"x":0.5,"y":1.056},{"c":4,"x":1,"y":0.728},{"c":4,"x":2,"y":0.162},{"c":4,"x":3,"y":0},
{"c":5,"x":0,"y":1},{"c":5,"x":0.65,"y":0.88},{"c":5,"x":1.3,"y":0.607},{"c":5,"x":2.6,"y":0.135},{"c":5,"x":3.9,"y":0},
{"c":6,"x":0,"y":0.8},{"c":6,"x":0.8,"y":0.704},{"c":6,"x":1.6,"y":0.486},{"c":6,"x":3.2,"y":0.108},{"c":6,"x":4.8,"y":0},
{"c":7,"x":0,"y":0.7},{"c":7,"x":1,"y":0.616},{"c":7,"x":2,"y":0.425},{"c":7,"x":4,"y":0.095},{"c":7,"x":6,"y":0},
{"c":8,"x":0,"y":0.6},{"c":8,"x":1.2,"y":0.528},{"c":8,"x":2.4,"y":0.364},{"c":8,"x":4.8,"y":0.081},{"c":8,"x":7.2,"y":0},
{"c":9,"x":0,"y":0.5},{"c":9,"x":1.5,"y":0.44},{"c":9,"x":3,"y":0.304},{"c":9,"x":6,"y":0.068},{"c":9,"x":9,"y":0},
{"c":10,"x":0,"y":2},{"c":10,"x":0.2,"y":1.76},{"c":10,"x":0.4,"y":1.214},{"c":10,"x":0.8,"y":0.27},{"c":10,"x":1.2,"y":0},
{"c":11,"x":0,"y":0.132},{"c":11,"x":1.1,"y":0.3946},{"c":11,"x":2.5,"y":0.65},{"c":11,"x":3.9,"y":0.3946},{"c":11,"x":5.3,"y":0.0878},{"c":11,"x":6.7,"y":0},
{"c":12,"x":0,"y":0.038},{"c":12,"x":0.5,"y":0.0743},{"c":12,"x":2.1,"y":0.3339},{"c":12,"x":3.7,"y":0.55},{"c":12,"x":5.3,"y":0.3339},{"c":12,"x":6.9,"y":0.0743},{"c":12,"x":8.5,"y":0},
{"c":13,"x":0,"y":0.0185},{"c":13,"x":1,"y":0.0567},{"c":13,"x":3,"y":0.2549},{"c":13,"x":5,"y":0.42},{"c":13,"x":7,"y":0.2549},{"c":13,"x":9,"y":0.0567},{"c":13,"x":11,"y":0},
{"c":14,"x":0,"y":0.0097},{"c":14,"x":1.6,"y":0.054},{"c":14,"x":3.8,"y":0.2428},{"c":14,"x":6,"y":0.4},{"c":14,"x":8.2,"y":0.2428},{"c":14,"x":10.4,"y":0.054},{"c":14,"x":12.6,"y":0},
{"c":15,"x":0.6,"y":0},{"c":15,"x":2.9,"y":0.0513},{"c":15,"x":5.2,"y":0.2307},{"c":15,"x":7.5,"y":0.38},{"c":15,"x":9.8,"y":0.2307},{"c":15,"x":12.1,"y":0.0513},{"c":15,"x":14.4,"y":0},
{"c":16,"x":0.8,"y":0},{"c":16,"x":3.6,"y":0.0405},{"c":16,"x":6.4,"y":0.1821},{"c":16,"x":9.2,"y":0.3},{"c":16,"x":12,"y":0.1821},{"c":16,"x":14.8,"y":0.0405},{"c":16,"x":17.6,"y":0},
{"c":17,"x":2.1,"y":0},{"c":17,"x":5.1,"y":0.0378},{"c":17,"x":8.1,"y":0.17},{"c":17,"x":11.1,"y":0.28},{"c":17,"x":14.1,"y":0.17},{"c":17,"x":17.1,"y":0.0378},{"c":17,"x":20.1,"y":0},
{"c":18,"x":3.8,"y":0},{"c":18,"x":6.8,"y":0.0365},{"c":18,"x":9.8,"y":0.1639},{"c":18,"x":12.8,"y":0.27},{"c":18,"x":15.8,"y":0.1639},{"c":18,"x":18.8,"y":0.0365},{"c":18,"x":21.8,"y":0},
{"c":19,"x":4.9,"y":0},{"c":19,"x":8.1,"y":0.0324},{"c":19,"x":11.3,"y":0.1457},{"c":19,"x":14.5,"y":0.24},{"c":19,"x":17.7,"y":0.1457},{"c":19,"x":20.9,"y":0.0324},{"c":19,"x":24.1,"y":0},
{"c":20,"x":5.7,"y":0},{"c":20,"x":9.2,"y":0.027},{"c":20,"x":12.7,"y":0.1214},{"c":20,"x":16.2,"y":0.2},{"c":20,"x":19.7,"y":0.1214},{"c":20,"x":23.2,"y":0.027},{"c":20,"x":26.7,"y":0},
{"c":21,"x":13.1,"y":0},{"c":21,"x":15.1,"y":0.0324},{"c":21,"x":17.1,"y":0.1457},{"c":21,"x":19.1,"y":0.24},{"c":21,"x":21.1,"y":0.1457},{"c":21,"x":23.1,"y":0.0324},{"c":21,"x":25.1,"y":0},
{"c":22,"x":15.4,"y":0},{"c":22,"x":17.2,"y":0.0324},{"c":22,"x":19,"y":0.1457},{"c":22,"x":20.8,"y":0.24},{"c":22,"x":22.6,"y":0.1457},{"c":22,"x":24.4,"y":0.0324},{"c":22,"x":26.2,"y":0},
{"c":23,"x":0.7,"y":0},{"c":23,"x":3.3,"y":0.0446},{"c":23,"x":5.9,"y":0.2003},{"c":23,"x":8.5,"y":0.33},{"c":23,"x":11.1,"y":0.2003},{"c":23,"x":13.7,"y":0.0446},{"c":23,"x":16.3,"y":0},
{"c":24,"x":0,"y":0.033},{"c":24,"x":0.6,"y":0.0675},{"c":24,"x":2.4,"y":0.3035},{"c":24,"x":4.2,"y":0.5},{"c":24,"x":6,"y":0.3035},{"c":24,"x":7.8,"y":0.0675},{"c":24,"x":9.6,"y":0},
{"c":25,"x":0,"y":0},{"c":25,"x":3.5,"y":0.0338},{"c":25,"x":7,"y":0.1518},{"c":25,"x":10.5,"y":0.25},{"c":25,"x":14,"y":0.1518},{"c":25,"x":17.5,"y":0.0338},{"c":25,"x":21,"y":0},
{"c":26,"x":10.6,"y":0},{"c":26,"x":12.9,"y":0.0297},{"c":26,"x":15.2,"y":0.1335},{"c":26,"x":17.5,"y":0.22},{"c":26,"x":19.8,"y":0.1335},{"c":26,"x":22.1,"y":0.0297},{"c":26,"x":24.4,"y":0},
{"c":27,"x":0,"y":1.7},{"c":27,"x":0.25,"y":1.496},{"c":27,"x":0.5,"y":1.032},{"c":27,"x":1,"y":0.23},{"c":27,"x":1.5,"y":0},
{"c":28,"x":0,"y":1.35},{"c":28,"x":0.35,"y":1.188},{"c":28,"x":0.7,"y":0.819},{"c":28,"x":1.4,"y":0.182},{"c":28,"x":2.1,"y":0},
{"c":29,"x":0,"y":1.1},{"c":29,"x":0.45,"y":0.968},{"c":29,"x":0.9,"y":0.668},{"c":29,"x":1.8,"y":0.149},{"c":29,"x":2.7,"y":0},
{"c":30,"x":0,"y":0.9},{"c":30,"x":0.7,"y":0.792},{"c":30,"x":1.4,"y":0.546},{"c":30,"x":2.8,"y":0.122},{"c":30,"x":4.2,"y":0},
{"c":31,"x":0,"y":0.75},{"c":31,"x":0.9,"y":0.66},{"c":31,"x":1.8,"y":0.455},{"c":31,"x":3.6,"y":0.101},{"c":31,"x":5.4,"y":0},
{"c":32,"x":0,"y":0.65},{"c":32,"x":1.1,"y":0.572},{"c":32,"x":2.2,"y":0.395},{"c":32,"x":4.4,"y":0.088},{"c":32,"x":6.6,"y":0},
{"c":33,"x":0,"y":0.55},{"c":33,"x":1.35,"y":0.484},{"c":33,"x":2.7,"y":0.334},{"c":33,"x":5.4,"y":0.074},{"c":33,"x":8.1,"y":0},
{"c":34,"x":0,"y":0.081},{"c":34,"x":1.5,"y":0.364},{"c":34,"x":3,"y":0.6},{"c":34,"x":4.5,"y":0.364},{"c":34,"x":6,"y":0.081},{"c":34,"x":7.5,"y":0},
{"c":35,"x":0,"y":0.0146},{"c":35,"x":1.3,"y":0.0608},{"c":35,"x":3.4,"y":0.2732},{"c":35,"x":5.5,"y":0.45},{"c":35,"x":7.6,"y":0.2732},{"c":35,"x":9.7,"y":0.0608},{"c":35,"x":11.8,"y":0}
],
"D0":[{"x":0,"y":0},{"x":0.95,"y":0},{"x":1.15,"y":0.74},{"x":1.35,"y":3.3},{"x":1.55,"y":5.5},{"x":1.75,"y":3.3},{"x":1.95,"y":0.74},{"x":2.15,"y":0},{"x":30,"y":0}]
},
"spacing":63,
"vconcat":[
{"hconcat":[
{"width":385,"height":224,"title":{"text":"A","offset":-22},
"layer":[
{"data":{"name":"A"},"mark":{"type":"line","interpolate":"monotone","strokeWidth":1},
"encoding":{"x":{"field":"x","type":"quantitative","scale":{"domain":[-20,420],"range":[9,385],"nice":false,"zero":false},"axis":{"values":[0,100,200,300,400],"format":"d","title":"Stop Signal Reaction Time"}},
"y":{"field":"y","type":"quantitative","scale":{"domain":[-0.0081,0.1701],"nice":false,"zero":false},"axis":{"values":[0,0.05,0.1,0.15],"format":".2f","title":"Density","offset":-9,"titlePadding":10}},
"color":{"field":"c","type":"nominal","scale":{"range":["#b8b8b8","#737373","#cfcfcf","#949494","#c0c0c0","#5f5f5f","#a8a8a8","#d6d6d6","#858585","#b0b0b0"]},"legend":null}}},
{"data":{"name":"A0"},"mark":{"type":"line","interpolate":"monotone","color":"#111111","strokeWidth":1.5},
"encoding":{"x":{"field":"x","type":"quantitative"},"y":{"field":"y","type":"quantitative"}}}
]},
{"width":377,"height":224,"title":{"text":"B","offset":-18},
"layer":[
{"data":{"name":"B"},"mark":{"type":"line","interpolate":"monotone","strokeWidth":1},
"encoding":{"x":{"field":"x","type":"quantitative","scale":{"domain":[317.5,1032.5],"nice":false,"zero":false},"axis":{"values":[400,600,800,1000],"format":"d","title":"Matching Finishing Time"}},
"y":{"field":"y","type":"quantitative","scale":{"domain":[-0.0063,0.1323],"nice":false,"zero":false},"axis":{"values":[0,0.04,0.08,0.12],"format":".2f","title":"Density","titlePadding":8}},
"color":{"field":"c","type":"nominal","scale":{"range":["#b8b8b8","#737373","#cfcfcf","#949494","#c0c0c0","#5f5f5f","#a8a8a8","#d6d6d6","#858585","#b0b0b0"]},"legend":null}}},
{"data":{"name":"B0"},"mark":{"type":"line","interpolate":"monotone","color":"#111111","strokeWidth":1.5},
"encoding":{"x":{"field":"x","type":"quantitative"},"y":{"field":"y","type":"quantitative"}}}
]}
],"spacing":78},
{"hconcat":[
{"width":385,"height":225,"title":{"text":"C","offset":-10},
"layer":[
{"data":{"name":"C"},"mark":{"type":"line","interpolate":"monotone","strokeWidth":1},
"encoding":{"x":{"field":"x","type":"quantitative","scale":{"domain":[-5,105],"nice":false,"zero":false},"axis":{"values":[0,25,50,75,100],"format":"d","title":"Probability Trigger Failure"}},
"y":{"field":"y","type":"quantitative","scale":{"domain":[-0.01925,0.40425],"nice":false,"zero":false},"axis":{"values":[0,0.1,0.2,0.3,0.4],"format":".1f","title":"Density","titlePadding":10}},
"color":{"field":"c","type":"nominal","scale":{"range":["#b8b8b8","#737373","#cfcfcf","#949494","#c0c0c0","#5f5f5f","#a8a8a8","#d6d6d6","#858585","#b0b0b0"]},"legend":null}}},
{"data":{"name":"C0"},"mark":{"type":"line","interpolate":"monotone","color":"#111111","strokeWidth":1.5},
"encoding":{"x":{"field":"x","type":"quantitative"},"y":{"field":"y","type":"quantitative"}}}
]},
{"width":397,"height":225,"title":{"text":"D","offset":-4},
"layer":[
{"data":{"name":"D"},"mark":{"type":"line","interpolate":"monotone","strokeWidth":1},
"encoding":{"x":{"field":"x","type":"quantitative","scale":{"domain":[-1.5,31.5],"nice":false,"zero":false},"axis":{"values":[0,10,20,30],"format":"d","title":"Probability Go Failure"}},
"y":{"field":"y","type":"quantitative","scale":{"domain":[-0.275,5.775],"nice":false,"zero":false},"axis":{"values":[0,2,4],"format":"d","title":"Density","titlePadding":3}},
"color":{"field":"c","type":"nominal","scale":{"range":["#b8b8b8","#737373","#cfcfcf","#949494","#c0c0c0","#5f5f5f","#a8a8a8","#d6d6d6","#858585","#b0b0b0"]},"legend":null}}},
{"data":{"name":"D0"},"mark":{"type":"line","interpolate":"monotone","color":"#111111","strokeWidth":1.5},
"encoding":{"x":{"field":"x","type":"quantitative"},"y":{"field":"y","type":"quantitative"}}}
]}
],"spacing":84}
]
}
